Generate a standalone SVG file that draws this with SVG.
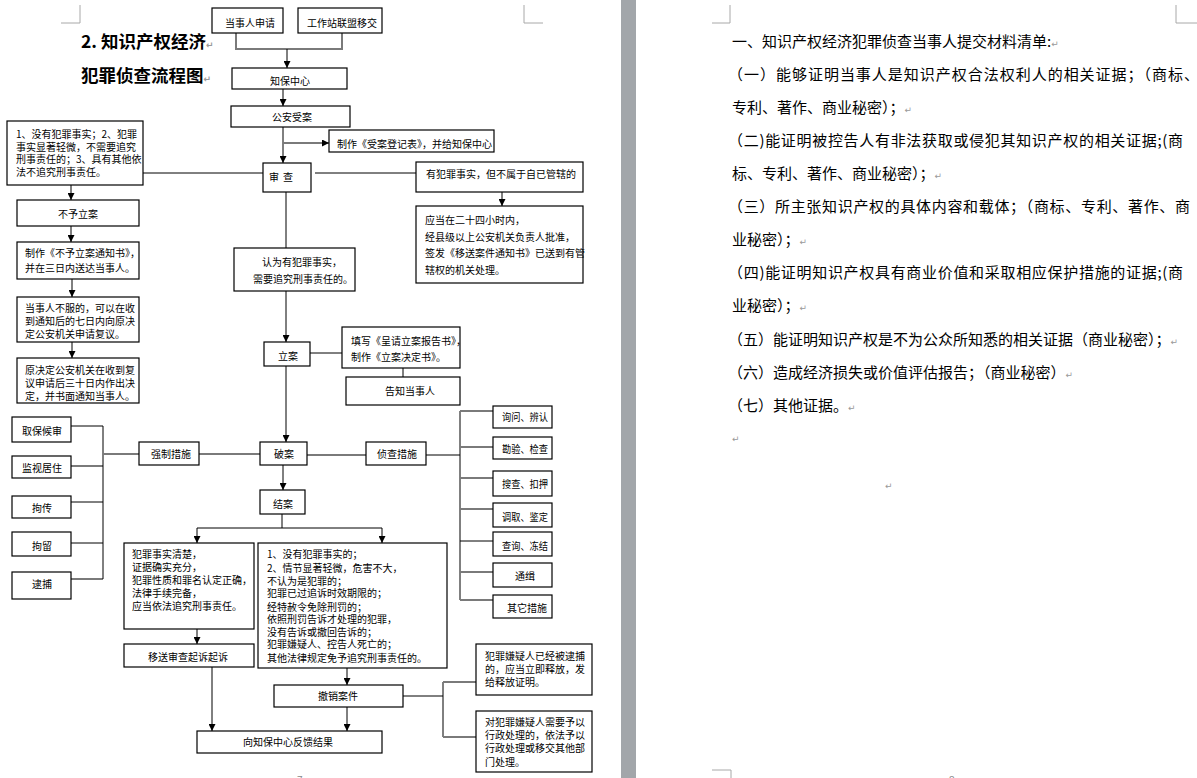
<svg xmlns="http://www.w3.org/2000/svg" width="1197" height="778" viewBox="0 0 1197 778">
<style>
.bx{fill:#fff;stroke:#000;stroke-width:1.2}
.t{font-family:"Noto Sans CJK SC","Noto Sans",sans-serif;font-size:10px;fill:#000}
.c{fill:none;stroke:#000;stroke-width:1}
.g{fill:none;stroke:#7a7a7a;stroke-width:2}
.crop{fill:none;stroke:#a8a8a8;stroke-width:1}
.p{font-family:"Noto Sans CJK SC","Noto Sans",sans-serif;font-size:15px;fill:#000}
.rt{font-family:"DejaVu Sans",sans-serif;font-size:9px;fill:#999}
.pg{font-family:"Liberation Sans",sans-serif;font-size:10px;fill:#888}
.ttl{font-family:"Noto Sans CJK SC","Noto Sans",sans-serif;font-size:17.5px;font-weight:bold;fill:#000}
</style>
<defs>
<marker id="ah" viewBox="0 0 8 8" refX="8" refY="4" markerWidth="7" markerHeight="7" markerUnits="userSpaceOnUse" orient="auto"><path d="M0,0 L8,4 L0,8 z" fill="#000"/></marker>
</defs>
<rect x="0" y="0" width="1197" height="778" fill="#fff"/>
<rect x="621" y="0" width="15" height="778" fill="#a2a6aa"/>
<g id="cropmarks">
<polyline class="crop" points="61,23 80,23 80,5"/>
<polyline class="crop" points="524,5 524,23 543,23"/>
<polyline class="crop" points="712,23 730,23 730,5"/>
<polyline class="crop" points="1176,5 1176,23 1197,23"/>
<polyline class="crop" points="712,770 731,770 731,778"/>
</g>
<g id="pagenums">
<text class="pg" x="297" y="784">7</text>
<text class="pg" x="949" y="784">8</text>
</g>
<g id="title">
<text class="ttl" x="81" y="48">2. 知识产权经济<tspan class="rt" font-size="10">↵</tspan></text>
<text class="ttl" x="81" y="82">犯罪侦查流程图<tspan class="rt" font-size="10">↵</tspan></text>
</g>
<g id="connectors">
<polyline class="g" points="236,33 236,49 342,49 342,33"/>
<line class="c" x1="287" y1="49" x2="287" y2="68" marker-end="url(#ah)"/>
<line class="c" x1="283" y1="89" x2="283" y2="106" marker-end="url(#ah)"/>
<line class="c" x1="283" y1="127" x2="283" y2="163" marker-end="url(#ah)"/>
<line class="g" x1="283" y1="143" x2="329" y2="143" marker-end="url(#ah)"/>
<line class="c" x1="143" y1="173" x2="263" y2="173"/>
<line class="c" x1="315" y1="173" x2="416" y2="173"/>
<line class="c" x1="71" y1="185" x2="71" y2="200" marker-end="url(#ah)"/>
<line class="c" x1="502" y1="192" x2="502" y2="206" marker-end="url(#ah)"/>
<line class="c" x1="71" y1="226" x2="71" y2="242" marker-end="url(#ah)"/>
<line class="c" x1="72" y1="279" x2="72" y2="297" marker-end="url(#ah)"/>
<line class="c" x1="72" y1="342" x2="72" y2="358" marker-end="url(#ah)"/>
<line class="c" x1="286" y1="192" x2="286" y2="248"/>
<line class="c" x1="286" y1="291" x2="286" y2="342" marker-end="url(#ah)"/>
<line class="c" x1="310" y1="353" x2="342" y2="353"/>
<line class="c" x1="403" y1="368" x2="403" y2="377"/>
<line class="c" x1="286" y1="366" x2="286" y2="442" marker-end="url(#ah)"/>
<line class="c" x1="71" y1="426" x2="103" y2="426"/>
<line class="g" x1="71" y1="466" x2="103" y2="466"/>
<line class="c" x1="71" y1="502" x2="103" y2="502"/>
<line class="c" x1="71" y1="543" x2="103" y2="543"/>
<line class="g" x1="71" y1="579" x2="103" y2="579"/>
<line class="c" x1="103" y1="426" x2="103" y2="579"/>
<line class="g" x1="103" y1="454" x2="139" y2="454"/>
<line class="g" x1="199" y1="454" x2="260" y2="454"/>
<line class="g" x1="307" y1="455" x2="366" y2="455"/>
<line class="c" x1="426" y1="455" x2="460" y2="455"/>
<line class="c" x1="460" y1="411" x2="460" y2="600"/>
<line class="g" x1="460" y1="411" x2="493" y2="411"/>
<line class="g" x1="460" y1="447" x2="493" y2="447"/>
<line class="g" x1="460" y1="478" x2="493" y2="478"/>
<line class="g" x1="460" y1="509" x2="493" y2="509"/>
<line class="c" x1="460" y1="541" x2="493" y2="541"/>
<line class="g" x1="460" y1="572" x2="493" y2="572"/>
<line class="g" x1="460" y1="600" x2="493" y2="600"/>
<line class="c" x1="283" y1="465" x2="283" y2="490" marker-end="url(#ah)"/>
<polyline class="c" points="282,514 282,528"/>
<line class="c" x1="197" y1="528" x2="382" y2="528"/>
<line class="c" x1="197" y1="528" x2="197" y2="543" marker-end="url(#ah)"/>
<line class="c" x1="382" y1="528" x2="382" y2="543" marker-end="url(#ah)"/>
<line class="c" x1="197" y1="629" x2="197" y2="644" marker-end="url(#ah)"/>
<line class="c" x1="212" y1="667" x2="212" y2="731" marker-end="url(#ah)"/>
<line class="c" x1="347" y1="668" x2="347" y2="685" marker-end="url(#ah)"/>
<line class="c" x1="347" y1="707" x2="347" y2="731" marker-end="url(#ah)"/>
<line class="c" x1="403" y1="696" x2="443" y2="696"/>
<line class="c" x1="443" y1="682" x2="443" y2="737"/>
<line class="g" x1="443" y1="682" x2="476" y2="682"/>
<line class="g" x1="443" y1="737" x2="476" y2="737"/>
</g>
<g id="n_apply"><rect class="bx" x="212" y="8" width="71" height="25"/><text class="t" x="225" y="26.5">当事人申请</text></g>
<g id="n_transfer"><rect class="bx" x="298" y="8" width="84" height="25"/><text class="t" x="307" y="26.5">工作站联盟移交</text></g>
<g id="n_center"><rect class="bx" x="232" y="68" width="115" height="21"/><text class="t" x="270" y="85">知保中心</text></g>
<g id="n_accept"><rect class="bx" x="231" y="106" width="119" height="21"/><text class="t" x="272" y="121">公安受案</text></g>
<g id="n_record"><rect class="bx" x="329" y="130" width="165" height="22"/><text class="t" x="337" y="147.5">制作《受案登记表》，并给知保中心</text></g>
<g id="n_review"><rect class="bx" x="263" y="163" width="48" height="29"/><text class="t" x="269" y="180.5" letter-spacing="4">审查</text></g>
<g id="n_nofact"><rect class="bx" x="7" y="121" width="136" height="64"/>
<text class="t" x="16" y="138">1、没有犯罪事实；2、犯罪</text>
<text class="t" x="16" y="150.5">事实显著轻微，不需要追究</text>
<text class="t" x="16" y="163">刑事责任的；3、具有其他依</text>
<text class="t" x="16" y="176">法不追究刑事责任。</text></g>
<g id="n_notjuris"><rect class="bx" x="416" y="162" width="167" height="30"/><text class="t" x="426" y="178">有犯罪事实，但不属于自已管辖的</text></g>
<g id="n_norecord"><rect class="bx" x="17" y="200" width="122" height="26"/><text class="t" x="58" y="218">不予立案</text></g>
<g id="n_notice"><rect class="bx" x="17" y="242" width="122" height="37"/>
<text class="t" x="25" y="257">制作《不予立案通知书》，</text>
<text class="t" x="25" y="271.5">并在三日内送达当事人。</text></g>
<g id="n_appeal"><rect class="bx" x="17" y="297" width="122" height="45"/>
<text class="t" x="25" y="311.5">当事人不服的，可以在收</text>
<text class="t" x="25" y="324.5">到通知后的七日内向原决</text>
<text class="t" x="25" y="338">定公安机关申请复议。</text></g>
<g id="n_redecide"><rect class="bx" x="17" y="358" width="122" height="45"/>
<text class="t" x="25" y="374">原决定公安机关在收到复</text>
<text class="t" x="25" y="386.5">议申请后三十日内作出决</text>
<text class="t" x="25" y="399.5">定，并书面通知当事人。</text></g>
<g id="n_24h"><rect class="bx" x="416" y="206" width="167" height="77"/>
<text class="t" x="425" y="224">应当在二十四小时内，</text>
<text class="t" x="425" y="241">经县级以上公安机关负责人批准，</text>
<text class="t" x="425" y="257">签发《移送案件通知书》已送到有管</text>
<text class="t" x="425" y="274">辖权的机关处理。</text></g>
<g id="n_believe"><rect class="bx" x="234" y="248" width="121" height="43"/>
<text class="t" x="262" y="265.5">认为有犯罪事实，</text>
<text class="t" x="253" y="283">需要追究刑事责任的。</text></g>
<g id="n_filecase"><rect class="bx" x="264" y="342" width="46" height="24"/><text class="t" x="278" y="359.5">立案</text></g>
<g id="n_report"><rect class="bx" x="342" y="327" width="118" height="41"/>
<text class="t" x="351" y="344.5">填写《呈请立案报告书》，</text>
<text class="t" x="351" y="360.5">制作《立案决定书》。</text></g>
<g id="n_inform"><rect class="bx" x="346" y="377" width="114" height="28"/><text class="t" x="385" y="395">告知当事人</text></g>
<g id="n_bail"><rect class="bx" x="12" y="417" width="59" height="25"/><text class="t" x="22" y="434.5">取保候审</text></g>
<g id="n_surveil"><rect class="bx" x="12" y="456" width="59" height="22"/><text class="t" x="22" y="471.5">监视居住</text></g>
<g id="n_summon"><rect class="bx" x="12" y="496" width="59" height="22"/><text class="t" x="32" y="512">拘传</text></g>
<g id="n_detain"><rect class="bx" x="12" y="532" width="59" height="24"/><text class="t" x="32" y="549.5">拘留</text></g>
<g id="n_arrest"><rect class="bx" x="12" y="572" width="59" height="27"/><text class="t" x="32" y="588">逮捕</text></g>
<g id="n_force"><rect class="bx" x="139" y="442" width="60" height="23"/><text class="t" x="151" y="458">强制措施</text></g>
<g id="n_solve"><rect class="bx" x="260" y="442" width="47" height="23"/><text class="t" x="274" y="458">破案</text></g>
<g id="n_invest"><rect class="bx" x="366" y="442" width="60" height="23"/><text class="t" x="377" y="458">侦查措施</text></g>
<g id="n_inq"><rect class="bx" x="493" y="406" width="59" height="22"/><text class="t" x="502" y="421" textLength="46" lengthAdjust="spacingAndGlyphs">询问、辨认</text></g>
<g id="n_insp"><rect class="bx" x="493" y="437" width="59" height="22"/><text class="t" x="502" y="453" textLength="46" lengthAdjust="spacingAndGlyphs">勘验、检查</text></g>
<g id="n_search"><rect class="bx" x="493" y="471" width="59" height="25"/><text class="t" x="502" y="488" textLength="46" lengthAdjust="spacingAndGlyphs">搜查、扣押</text></g>
<g id="n_obtain"><rect class="bx" x="493" y="503" width="59" height="24"/><text class="t" x="502" y="520.5" textLength="46" lengthAdjust="spacingAndGlyphs">调取、鉴定</text></g>
<g id="n_freeze"><rect class="bx" x="493" y="532" width="59" height="24"/><text class="t" x="502" y="549.5" textLength="46" lengthAdjust="spacingAndGlyphs">查询、冻结</text></g>
<g id="n_wanted"><rect class="bx" x="493" y="563" width="59" height="24"/><text class="t" x="515" y="580">通缉</text></g>
<g id="n_other"><rect class="bx" x="493" y="595" width="59" height="23"/><text class="t" x="507" y="611.5">其它措施</text></g>
<g id="n_close"><rect class="bx" x="260" y="490" width="45" height="24"/><text class="t" x="273" y="508">结案</text></g>
<g id="n_clear"><rect class="bx" x="124" y="543" width="130" height="86"/>
<text class="t" x="132" y="558">犯罪事实清楚，</text>
<text class="t" x="132" y="571">证据确实充分，</text>
<text class="t" x="132" y="584">犯罪性质和罪名认定正确，</text>
<text class="t" x="132" y="596.5">法律手续完备，</text>
<text class="t" x="132" y="610">应当依法追究刑事责任。</text></g>
<g id="n_conditions"><rect class="bx" x="258" y="543" width="189" height="125"/>
<text class="t" x="267" y="558">1、没有犯罪事实的；</text>
<text class="t" x="267" y="572">2、情节显著轻微，危害不大，</text>
<text class="t" x="267" y="585">不认为是犯罪的；</text>
<text class="t" x="267" y="597">犯罪已过追诉时效期限的；</text>
<text class="t" x="267" y="610.5">经特赦令免除刑罚的；</text>
<text class="t" x="267" y="623">依照刑罚告诉才处理的犯罪，</text>
<text class="t" x="267" y="635.5">没有告诉或撤回告诉的；</text>
<text class="t" x="267" y="648">犯罪嫌疑人、控告人死亡的；</text>
<text class="t" x="267" y="661.5">其他法律规定免予追究刑事责任的。</text></g>
<g id="n_prosecute"><rect class="bx" x="124" y="644" width="130" height="23"/><text class="t" x="148" y="660.5">移送审查起诉起诉</text></g>
<g id="n_revoke"><rect class="bx" x="274" y="685" width="129" height="22"/><text class="t" x="318" y="700">撤销案件</text></g>
<g id="n_feedback"><rect class="bx" x="197" y="731" width="185" height="22"/><text class="t" x="243" y="746">向知保中心反馈结果</text></g>
<g id="n_release"><rect class="bx" x="476" y="644" width="116" height="51"/>
<text class="t" x="485" y="660">犯罪嫌疑人已经被逮捕</text>
<text class="t" x="485" y="673">的，应当立即释放，发</text>
<text class="t" x="485" y="685.5">给释放证明。</text></g>
<g id="n_admin"><rect class="bx" x="476" y="711" width="116" height="61"/>
<text class="t" x="485" y="725.5">对犯罪嫌疑人需要予以</text>
<text class="t" x="485" y="739">行政处理的，依法予以</text>
<text class="t" x="485" y="752">行政处理或移交其他部</text>
<text class="t" x="485" y="765.5">门处理。</text></g>
<g id="page2text">
<text class="p" x="732" y="47">一、知识产权经济犯罪侦查当事人提交材料清单:<tspan class="rt">↵</tspan></text>
<text class="p" x="728" y="80" textLength="471" lengthAdjust="spacing">（一）能够证明当事人是知识产权合法权利人的相关证据；（商标、</text>
<text class="p" x="732" y="113">专利、著作、商业秘密）；<tspan class="rt">↵</tspan></text>
<text class="p" x="728" y="146" textLength="455" lengthAdjust="spacing">（二)能证明被控告人有非法获取或侵犯其知识产权的相关证据;(商</text>
<text class="p" x="732" y="179">标、专利、著作、商业秘密）；<tspan class="rt">↵</tspan></text>
<text class="p" x="728" y="212" textLength="462" lengthAdjust="spacing">（三）所主张知识产权的具体内容和载体；（商标、专利、著作、商</text>
<text class="p" x="732" y="245">业秘密）；<tspan class="rt">↵</tspan></text>
<text class="p" x="728" y="278" textLength="455" lengthAdjust="spacing">（四)能证明知识产权具有商业价值和采取相应保护措施的证据;(商</text>
<text class="p" x="732" y="311">业秘密）；<tspan class="rt">↵</tspan></text>
<text class="p" x="728" y="345">（五）能证明知识产权是不为公众所知悉的相关证据（商业秘密）；<tspan class="rt">↵</tspan></text>
<text class="p" x="728" y="378">（六）造成经济损失或价值评估报告；（商业秘密）<tspan class="rt">↵</tspan></text>
<text class="p" x="728" y="411">（七）其他证据。<tspan class="rt">↵</tspan></text>
<text class="rt" x="732" y="442">↵</text>
<text class="rt" x="885" y="489">↵</text>
</g>
</svg>
